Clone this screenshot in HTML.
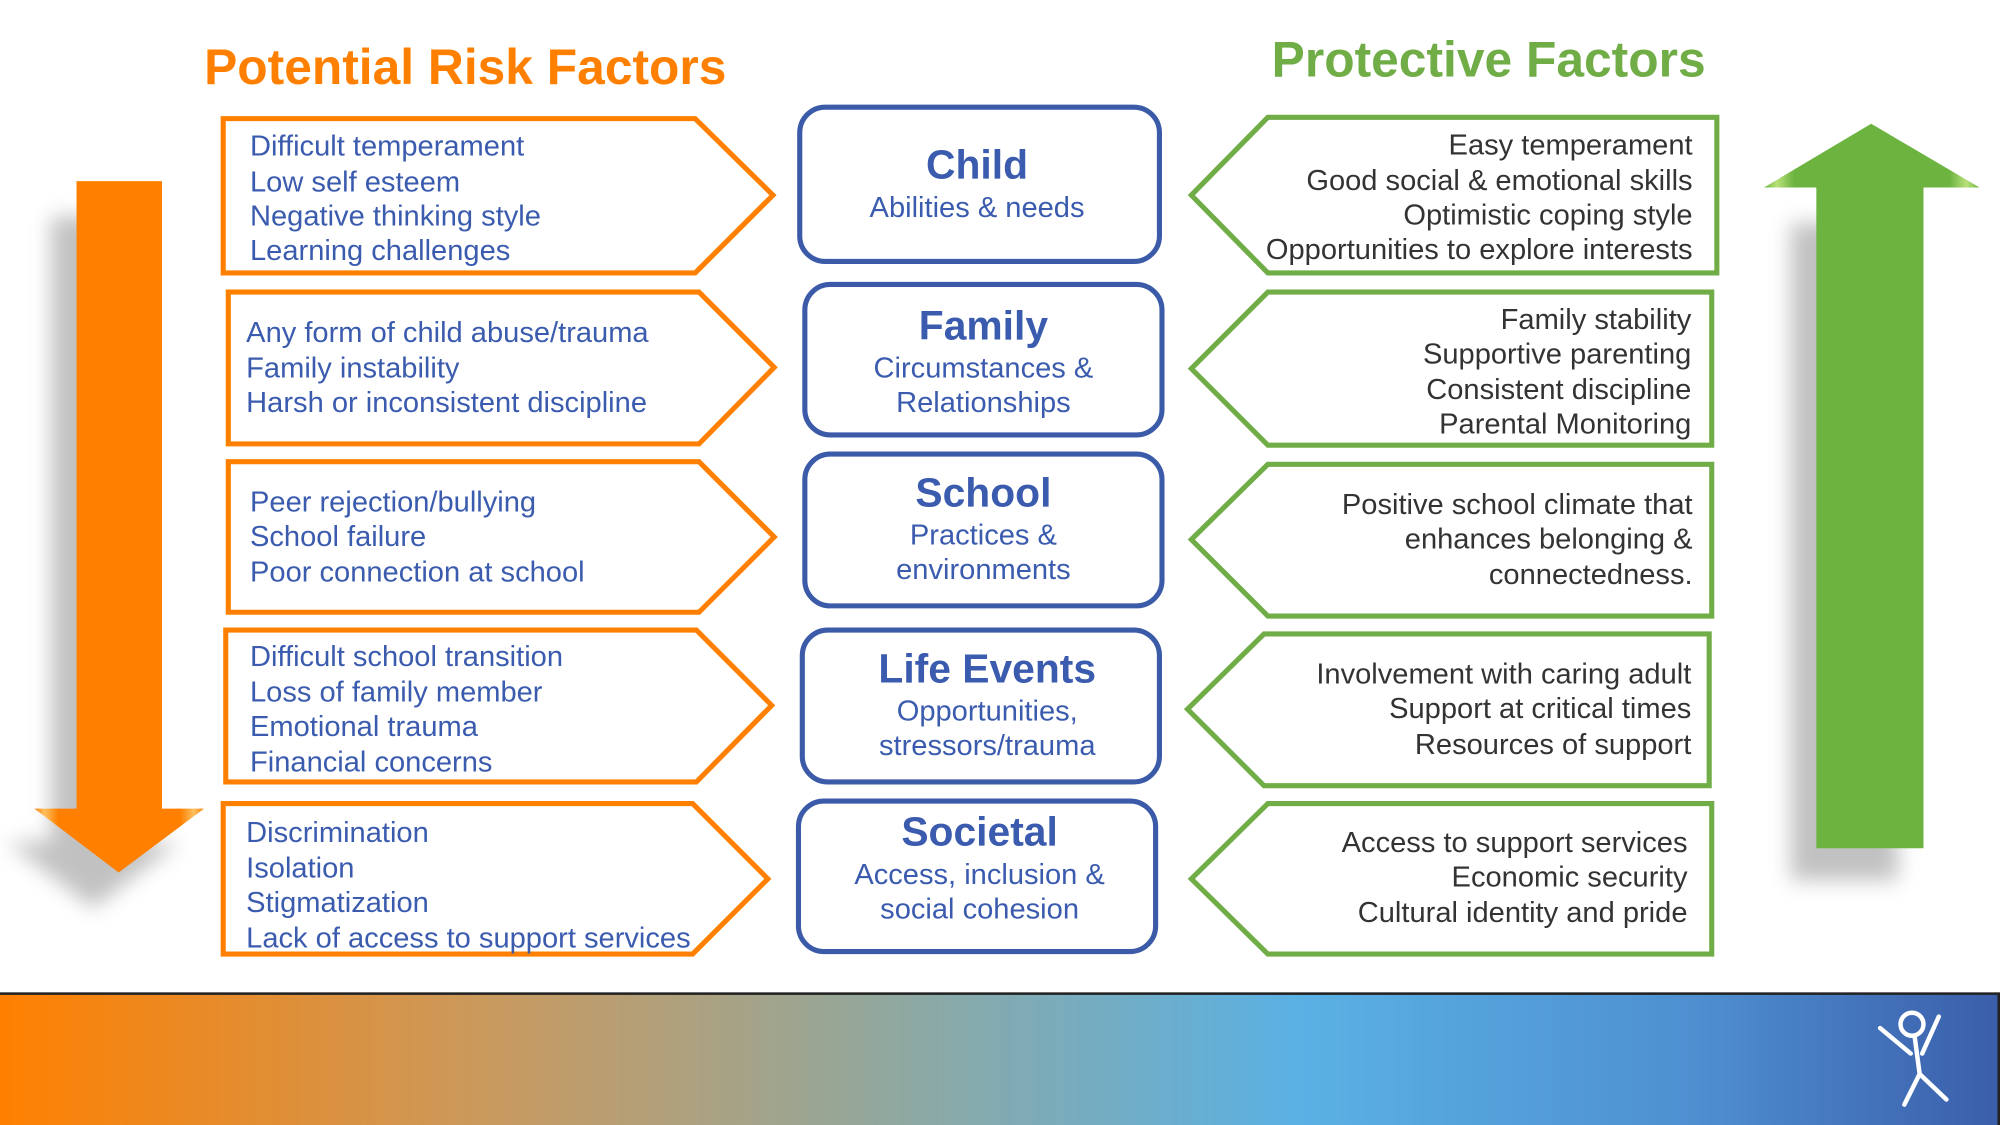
<!DOCTYPE html>
<html><head><meta charset="utf-8"><style>
html,body{margin:0;padding:0;background:#fff;}
svg{display:block;}
text{font-family:"Liberation Sans",sans-serif;}
.l{fill:#3A5BAE;font-size:22.8px;}
.r{fill:#333;font-size:22.8px;text-anchor:end;}
.ct{fill:#3A5BAE;font-size:32px;font-weight:bold;text-anchor:middle;}
.cs{fill:#3A5BAE;font-size:22.8px;text-anchor:middle;}
</style></head><body>
<svg width="2000" height="1125" viewBox="0 0 1568 882" xmlns="http://www.w3.org/2000/svg">
<defs>
<linearGradient id="band" x1="0" x2="1" y1="0" y2="0">
<stop offset="0" stop-color="#FF8000"/>
<stop offset="0.25" stop-color="#C89A60"/>
<stop offset="0.45" stop-color="#8FA8A0"/>
<stop offset="0.65" stop-color="#5AB1E4"/>
<stop offset="0.85" stop-color="#4E8FD0"/>
<stop offset="1" stop-color="#3B5EAA"/>
</linearGradient>
<linearGradient id="og" x1="0" x2="1">
<stop offset="0" stop-color="#FF8000"/><stop offset="0.06" stop-color="#FFC060"/><stop offset="0.14" stop-color="#FF8000"/>
<stop offset="0.86" stop-color="#FF8000"/><stop offset="0.94" stop-color="#FFC060"/><stop offset="1" stop-color="#FF8000"/>
</linearGradient>
<linearGradient id="gg" x1="0" x2="1">
<stop offset="0" stop-color="#6CB33F"/><stop offset="0.06" stop-color="#B8E07A"/><stop offset="0.14" stop-color="#6CB33F"/>
<stop offset="0.86" stop-color="#6CB33F"/><stop offset="0.94" stop-color="#B8E07A"/><stop offset="1" stop-color="#6CB33F"/>
</linearGradient>
<filter id="sh" x="-50%" y="-20%" width="200%" height="140%"><feGaussianBlur stdDeviation="8"/></filter>
</defs>

<text x="160" y="66" font-size="39" font-weight="bold" fill="#FF8000">Potential Risk Factors</text>
<text x="997" y="60" font-size="39" font-weight="bold" fill="#70AD47">Protective Factors</text>

<polygon points="40,170 107,170 107,660 140,660 73,712 6,660 40,660" fill="#999" opacity="0.6" filter="url(#sh)"/>
<polygon points="60,142 127,142 127,634 160,634 93,684 27,634 60,634" fill="url(#og)"/>
<polygon points="1404,175 1488,175 1488,690 1404,690" fill="#999" opacity="0.6" filter="url(#sh)"/>
<polygon points="1424,147 1383,147 1467,97 1552,147 1508,147 1508,665 1424,665" fill="url(#gg)"/>

<g fill="none" stroke="#FF8000" stroke-width="4">
<polygon points="175,93 545,93 606,153 545,214 175,214"/>
<polygon points="179,229 548,229 607,288 548,348 179,348"/>
<polygon points="179,362 548,362 607,421 548,480 179,480"/>
<polygon points="177,494 546,494 605,553 546,613 177,613"/>
<polygon points="175,630 543,630 602,689 543,748 175,748"/>
</g>
<g fill="none" stroke="#70AD47" stroke-width="4">
<polygon points="1346,92 994,92 934,153 994,214 1346,214"/>
<polygon points="1342,229 994,229 934,289 994,349 1342,349"/>
<polygon points="1342,364 994,364 934,423 994,483 1342,483"/>
<polygon points="1340,497 991,497 931,556 991,616 1340,616"/>
<polygon points="1342,630 994,630 934,689 994,748 1342,748"/>
</g>
<g fill="#fff" stroke="#3B5BA9" stroke-width="4">
<rect x="627" y="84" width="282" height="121" rx="20"/>
<rect x="631" y="223" width="280" height="118" rx="20"/>
<rect x="631" y="356" width="280" height="119" rx="20"/>
<rect x="629" y="494" width="280" height="119" rx="20"/>
<rect x="626" y="628" width="280" height="118" rx="20"/>
</g>

<text class="l"><tspan x="196" y="122">Difficult temperament</tspan><tspan x="196" y="150">Low self esteem</tspan><tspan x="196" y="177">Negative thinking style</tspan><tspan x="196" y="204">Learning challenges</tspan></text>
<text class="l"><tspan x="193" y="268">Any form of child abuse/trauma</tspan><tspan x="193" y="296">Family instability</tspan><tspan x="193" y="323">Harsh or inconsistent discipline</tspan></text>
<text class="l"><tspan x="196" y="401">Peer rejection/bullying</tspan><tspan x="196" y="428">School failure</tspan><tspan x="196" y="456">Poor connection at school</tspan></text>
<text class="l"><tspan x="196" y="522">Difficult school transition</tspan><tspan x="196" y="550">Loss of family member</tspan><tspan x="196" y="577">Emotional trauma</tspan><tspan x="196" y="605">Financial concerns</tspan></text>
<text class="l"><tspan x="193" y="660">Discrimination</tspan><tspan x="193" y="688">Isolation</tspan><tspan x="193" y="715">Stigmatization</tspan><tspan x="193" y="743">Lack of access to support services</tspan></text>

<text class="ct" x="766" y="140">Child</text><text class="cs" x="766" y="170">Abilities &amp; needs</text>
<text class="ct" x="771" y="266">Family</text><text class="cs"><tspan x="771" y="296">Circumstances &amp;</tspan><tspan x="771" y="323">Relationships</tspan></text>
<text class="ct" x="771" y="397">School</text><text class="cs"><tspan x="771" y="427">Practices &amp;</tspan><tspan x="771" y="454">environments</tspan></text>
<text class="ct" x="774" y="535">Life Events</text><text class="cs"><tspan x="774" y="565">Opportunities,</tspan><tspan x="774" y="592">stressors/trauma</tspan></text>
<text class="ct" x="768" y="663">Societal</text><text class="cs"><tspan x="768" y="693">Access, inclusion &amp;</tspan><tspan x="768" y="720">social cohesion</tspan></text>

<text class="r"><tspan x="1327" y="121">Easy temperament</tspan><tspan x="1327" y="149">Good social &amp; emotional skills</tspan><tspan x="1327" y="176">Optimistic coping style</tspan><tspan x="1327" y="203">Opportunities to explore interests</tspan></text>
<text class="r"><tspan x="1326" y="258">Family stability</tspan><tspan x="1326" y="285">Supportive parenting</tspan><tspan x="1326" y="313">Consistent discipline</tspan><tspan x="1326" y="340">Parental Monitoring</tspan></text>
<text class="r"><tspan x="1327" y="403">Positive school climate that</tspan><tspan x="1327" y="430">enhances belonging &amp;</tspan><tspan x="1327" y="458">connectedness.</tspan></text>
<text class="r"><tspan x="1326" y="536">Involvement with caring adult</tspan><tspan x="1326" y="563">Support at critical times</tspan><tspan x="1326" y="591">Resources of support</tspan></text>
<text class="r"><tspan x="1323" y="668">Access to support services</tspan><tspan x="1323" y="695">Economic security</tspan><tspan x="1323" y="723">Cultural identity and pride</tspan></text>

<rect x="0" y="778" width="1568" height="104" fill="#222"/>
<rect x="0" y="780" width="1566" height="102" fill="url(#band)"/>
<g stroke="#fff" stroke-width="3.5" fill="none" stroke-linecap="round">
<circle cx="1499" cy="803" r="9"/>
<path d="M1501,812 L1505,842 M1505,842 L1493,866 M1505,842 L1526,862 M1474,806 L1498,826 M1520,797 L1507,826"/>
</g>
</svg>
</body></html>
